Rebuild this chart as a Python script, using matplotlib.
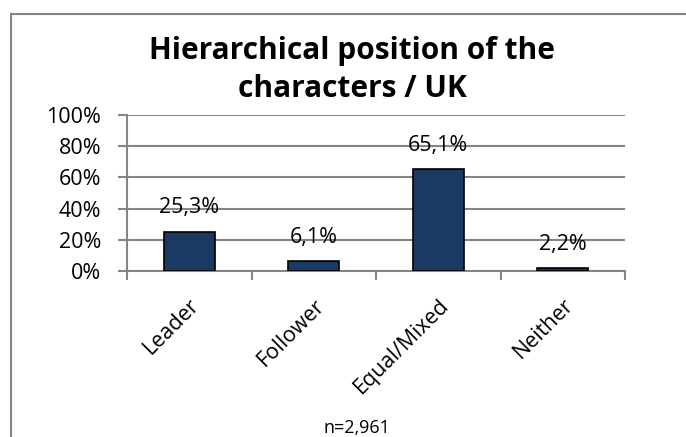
import matplotlib

matplotlib.use("Agg")
import matplotlib.pyplot as plt
from matplotlib.patches import Rectangle

categories = ["Leader", "Follower", "Equal/Mixed", "Neither"]
shares = [25.3, 6.1, 65.1, 2.2]
labels = ["25,3%", "6,1%", "65,1%", "2,2%"]
yticks = [0, 20, 40, 60, 80, 100]
title = "Hierarchical position of the\ncharacters / UK"
note = "n=2,961"

plt.rcParams["font.family"] = ["Open Sans", "DejaVu Sans"]
grey = "#868686"

fig = plt.figure(figsize=(6.86, 4.37), dpi=100)
# outer chart frame (right and bottom edges run off the picture)
fig.patches.append(Rectangle((11 / 686, -0.1), 1.0, 1 - 14 / 437 + 0.1,
                             transform=fig.transFigure, fill=False,
                             edgecolor=grey, linewidth=1.5))

ax = fig.add_axes([127 / 686, 1 - 271 / 437, (625 - 127) / 686, (271 - 115) / 437])
x = range(len(categories))
ax.bar(x, shares, width=0.41, color="#1b3a63", edgecolor="black", linewidth=1.2, zorder=3)
for i, (v, t) in enumerate(zip(shares, labels)):
    ax.annotate(t, (i, v), xytext=(0, 13), textcoords="offset points",
                ha="center", va="baseline", fontsize=15.5, zorder=4)

ax.set_xlim(-0.5, len(categories) - 0.5)
ax.set_ylim(0, 100)
ax.set_yticks(yticks)
ax.set_yticklabels([f"{t}%" for t in yticks], fontsize=15.5)
ax.yaxis.grid(True, color=grey, linewidth=1.5, zorder=0)
ax.set_axisbelow(True)

ax.set_xticks([i + 0.5 for i in range(-1, len(categories))], minor=False)
ax.set_xticklabels([])
ax.set_xticks(list(x), minor=True)
ax.set_xticklabels(categories, minor=True, rotation=45, ha="right", va="top",
                   rotation_mode="anchor", fontsize=15.5)
ax.tick_params(axis="x", which="minor", length=0, pad=17)
ax.tick_params(axis="x", which="major", length=6.5, color=grey, width=1.5)
ax.tick_params(axis="y", length=6.5, color=grey, width=1.5, pad=12)

for s in ("top", "right"):
    ax.spines[s].set_visible(False)
for s in ("left", "bottom"):
    ax.spines[s].set_color(grey)
    ax.spines[s].set_linewidth(1.5)

fig.text(352 / 686, 1 - 70 / 437, title, ha="center", va="center",
         fontsize=21.5, fontweight="bold", linespacing=1.38)
fig.text(357 / 686, 1 - 428 / 437, note, ha="center", va="center", fontsize=13)

fig.savefig("out.png", dpi=100)
